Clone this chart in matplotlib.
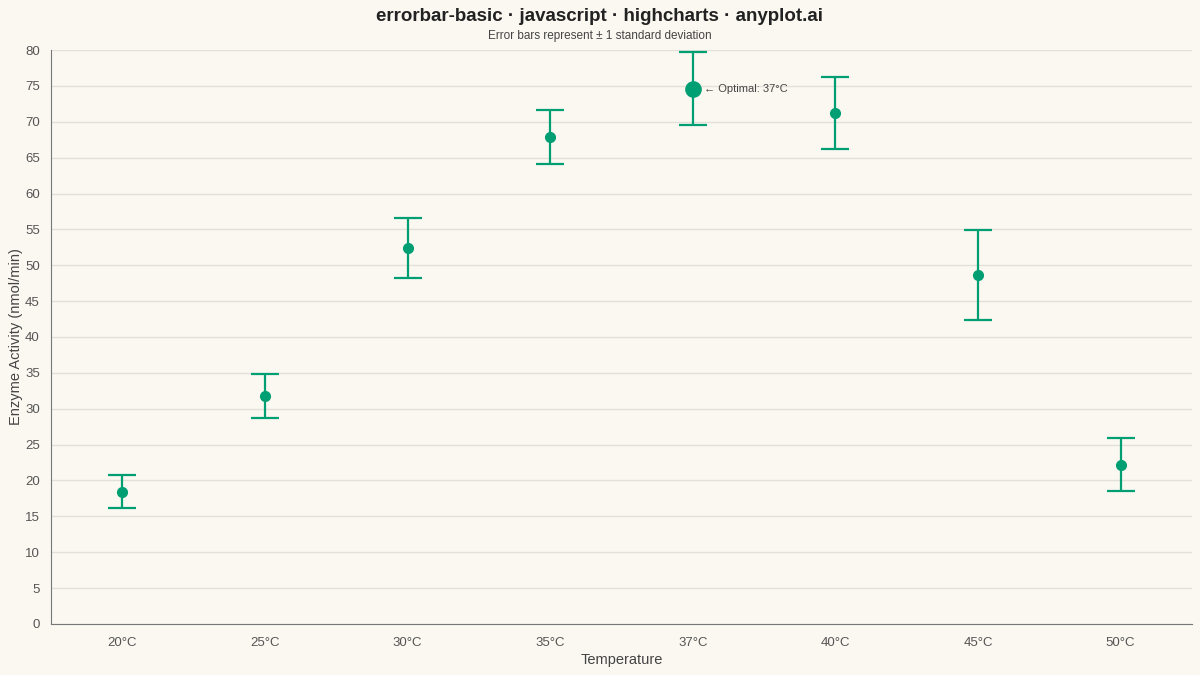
import numpy as np
import matplotlib.pyplot as plt

plt.rcParams['font.family'] = ['Liberation Sans', 'DejaVu Sans']

# Data
temperatures = ['20°C', '25°C', '30°C', '35°C', '37°C', '40°C', '45°C', '50°C']
activity = [18.4, 31.8, 52.4, 67.9, 74.6, 71.2, 48.6, 22.2]
std_dev = [2.3, 3.1, 4.2, 3.8, 5.1, 5.0, 6.3, 3.7]
optimal_label = '37°C'

green = '#009E73'
bg = '#FAF8F1'

fig = plt.figure(figsize=(12, 6.75), dpi=100, facecolor=bg)
ax = fig.add_axes([0.0425, 0.0756, 0.9508, 0.8503], facecolor=bg)

x = np.arange(len(temperatures))
ax.errorbar(x, activity, yerr=std_dev, fmt='o', color=green, ecolor=green,
            elinewidth=1.6, capsize=10, capthick=1.6, markersize=7, zorder=3)

# highlight optimal point
opt = temperatures.index(optimal_label)
ax.plot(x[opt], activity[opt], 'o', color=green, markersize=11, zorder=4)
ax.annotate('← Optimal: ' + optimal_label, xy=(x[opt], activity[opt]),
            xytext=(8, 0), textcoords='offset points', va='center', ha='left',
            fontsize=8, color='#444444')

ax.set_xlim(-0.5, len(temperatures) - 0.5)
ax.set_ylim(0, 80)
ax.set_yticks(np.arange(0, 81, 5))
ax.set_xticks(x)
ax.set_xticklabels(temperatures)
ax.tick_params(axis='both', length=0, labelsize=9.5, colors='#555555')
ax.tick_params(axis='x', pad=9.5)
ax.tick_params(axis='y', pad=8)

ax.grid(axis='y', color='#E2E0D8', linewidth=1)
ax.set_axisbelow(True)
for s in ['top', 'right']:
    ax.spines[s].set_visible(False)
ax.spines['left'].set_color('#777777')
ax.spines['bottom'].set_color('#777777')

ax.set_xlabel('Temperature', fontsize=10.5, color='#444444')
ax.set_ylabel('Enzyme Activity (nmol/min)', fontsize=10.5, color='#444444')
ax.xaxis.set_label_coords(0.5, -0.0505)
ax.yaxis.set_label_coords(-0.0245, 0.5)

fig.text(0.5, 0.975, 'errorbar-basic · javascript · highcharts · anyplot.ai',
         ha='center', va='center', fontsize=13.5, fontweight='bold', color='#222222')
fig.text(0.5, 0.947, 'Error bars represent ± 1 standard deviation',
         ha='center', va='center', fontsize=8.5, color='#444444')

fig.savefig('out.png', dpi=100, facecolor=bg)
